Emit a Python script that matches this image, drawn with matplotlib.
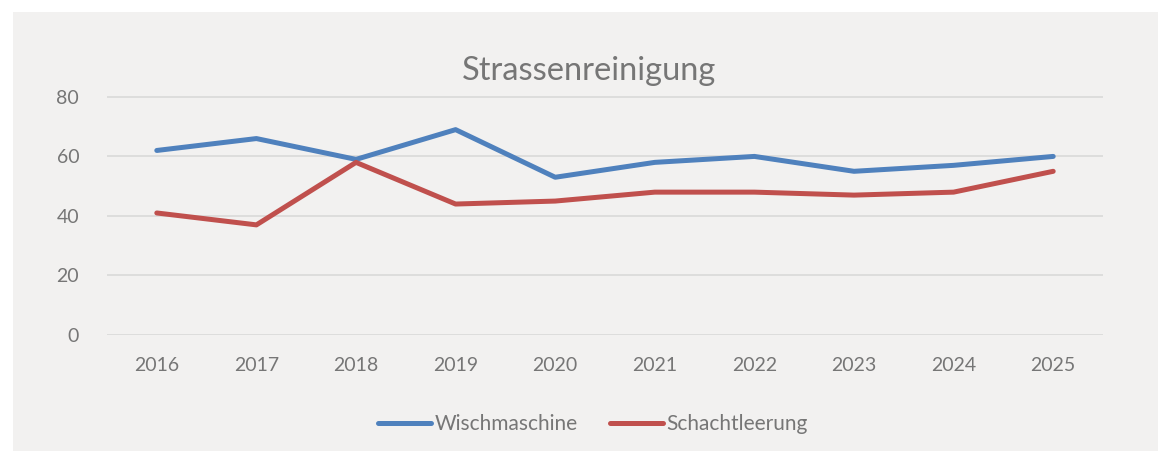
import matplotlib

matplotlib.use("Agg")
import matplotlib.pyplot as plt
from matplotlib.patches import Rectangle

YEARS = ["2016", "2017", "2018", "2019", "2020", "2021", "2022", "2023", "2024", "2025"]
WISCHMASCHINE = [62, 66, 59, 69, 53, 58, 60, 55, 57, 60]
SCHACHTLEERUNG = [41, 37, 58, 44, 45, 48, 48, 47, 48, 55]
Y_TICKS = [0, 20, 40, 60, 80]

W, H = 1158, 454
BG = "#f2f1f0"
TEXT = "#767676"
GRID = "#d9d9d9"
BLUE = "#4f81bd"
RED = "#c0504d"

plt.rcParams["font.family"] = ["Lato", "DejaVu Sans"]

fig = plt.figure(figsize=(W / 100, H / 100), dpi=100, facecolor="white")
# grey chart area, white margin on the top and left like the screenshot
fig.patches.append(Rectangle((13 / W, 3 / H), 1 - 13 / W, (451 - 12) / H,
                             transform=fig.transFigure, facecolor=BG, edgecolor="none", zorder=-10))

ax = fig.add_axes([107 / W, (H - 335) / H, (1103 - 107) / W, (335 - 96) / H])
ax.set_zorder(1)
ax.patch.set_alpha(0)

x = list(range(len(YEARS)))
ax.plot(x, WISCHMASCHINE, color=BLUE, lw=3.6, solid_capstyle="round", solid_joinstyle="round",
        label="Wischmaschine", zorder=3)
ax.plot(x, SCHACHTLEERUNG, color=RED, lw=3.6, solid_capstyle="round", solid_joinstyle="round",
        label="Schachtleerung", zorder=3)

ax.set_xlim(-0.5, len(YEARS) - 0.5)
ax.set_yticks(Y_TICKS)
ax.set_xticks(x)
ax.set_xticklabels(YEARS)
for side in ("top", "right", "bottom", "left"):
    ax.spines[side].set_visible(False)
ax.tick_params(axis="both", length=0, labelsize=14, labelcolor=TEXT)
ax.tick_params(axis="y", pad=20)
ax.tick_params(axis="x", pad=16)
ax.grid(axis="y", color=GRID, lw=1.2)
ax.set_axisbelow(True)
ax.set_ylim(0, 80.3)

fig.text(589 / W, (H - 71) / H, "Strassenreinigung", ha="center", va="center",
         fontsize=23.5, color=TEXT)

ax.legend(loc="center", bbox_to_anchor=(593 / W, (H - 424) / H), bbox_transform=fig.transFigure,
          ncol=2, frameon=False, fontsize=15, labelcolor=TEXT, handlelength=2.55,
          handletextpad=0.15, columnspacing=1.55)

fig.savefig("out.png", dpi=100, facecolor="white")
